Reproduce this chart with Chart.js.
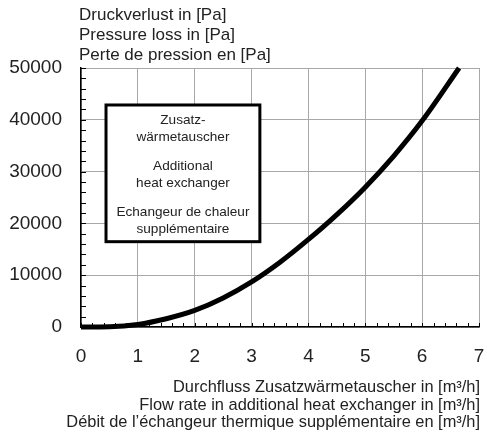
<!DOCTYPE html>
<html>
<head>
<meta charset="utf-8">
<script src="https://cdn.jsdelivr.net/npm/chart.js@4.4.0/dist/chart.umd.min.js"></script>
<style>
  html, body { margin: 0; padding: 0; background: #fff; }
  #wrap { width: 487px; height: 434px; }
</style>
</head>
<body>
<div id="wrap"><canvas id="druckChart" width="487" height="434"></canvas></div>
<script>
// Werte
const flowRate = [0, 0.5, 1, 1.5, 2, 2.5, 3, 3.5, 4, 4.5, 5, 5.5, 6, 6.65];
const pressureLoss = [0, 50, 500, 1600, 3200, 5600, 8700, 12500, 16900, 21700, 27000, 33000, 39800, 50000];
const xTicks = [0, 1, 2, 3, 4, 5, 6, 7];
const yTicks = [0, 10000, 20000, 30000, 40000, 50000];

const yTitle = ["Druckverlust in [Pa]", "Pressure loss in [Pa]", "Perte de pression en [Pa]"];
const xTitle = ["Durchfluss Zusatzwärmetauscher in [m³/h]", "Flow rate in additional heat exchanger in [m³/h]", "Débit de l’échangeur thermique supplémentaire en [m³/h]"];
const boxText = [["Zusatz-", "wärmetauscher"], ["Additional", "heat exchanger"], ["Echangeur de chaleur", "supplémentaire"]];

const fontName = "'Liberation Sans', Arial, sans-serif";

// Titel, Beschriftungsbox und innere Teilstriche
const extrasPlugin = {
    id: "extras",
    afterDatasetsDraw(chart) {
        const ctx = chart.ctx;
        const area = chart.chartArea;
        const xs = chart.scales.x;
        const ys = chart.scales.y;
        ctx.save();

        // kleine Teilstriche nach innen
        ctx.strokeStyle = "#000";
        ctx.lineWidth = 1;
        ctx.beginPath();
        for (let i = 0; i <= 35; i++) {
            const px = Math.round(xs.getPixelForValue(i * 0.2)) + 0.5;
            ctx.moveTo(px, area.bottom);
            ctx.lineTo(px, area.bottom - 4);
        }
        for (let i = 0; i <= 25; i++) {
            const py = Math.round(ys.getPixelForValue(i * 2000)) + 0.5;
            ctx.moveTo(area.left, py);
            ctx.lineTo(area.left + 5, py);
        }
        ctx.stroke();

        // Achsentitel
        ctx.fillStyle = "#222";
        ctx.font = "17px " + fontName;
        ctx.textAlign = "left";
        ctx.textBaseline = "alphabetic";
        yTitle.forEach((t, i) => ctx.fillText(t, area.left - 2, 20 + i * 20));

        ctx.font = "16.4px " + fontName;
        ctx.textAlign = "right";
        xTitle.forEach((t, i) => ctx.fillText(t, area.right + 1, 392 + i * 17.7));

        // Legendenbox
        const bx1 = xs.getPixelForValue(0.44);
        const bx2 = xs.getPixelForValue(3.146);
        const by1 = ys.getPixelForValue(42860);
        const by2 = ys.getPixelForValue(16470);
        ctx.fillStyle = "#fff";
        ctx.fillRect(bx1, by1, bx2 - bx1, by2 - by1);
        ctx.strokeStyle = "#000";
        ctx.lineWidth = 3;
        ctx.strokeRect(bx1, by1, bx2 - bx1, by2 - by1);

        ctx.fillStyle = "#222";
        ctx.font = "13.6px " + fontName;
        ctx.textAlign = "center";
        ctx.textBaseline = "middle";
        const cx = (bx1 + bx2) / 2;
        const starts = [by1 + 15, by1 + 61, by1 + 107];
        boxText.forEach((pair, g) => {
            pair.forEach((t, j) => ctx.fillText(t, cx, starts[g] + j * 17));
        });
        ctx.restore();
    }
};

const points = flowRate.map((v, i) => ({ x: v, y: pressureLoss[i] }));

const ctx = document.getElementById("druckChart").getContext("2d");
const druckChart = new Chart(ctx, {
    type: "line",
    data: {
        datasets: [{
            data: points,
            borderColor: "#000",
            borderWidth: 5,
            pointRadius: 0,
            fill: false,
            cubicInterpolationMode: "monotone",
            clip: false
        }]
    },
    options: {
        responsive: false,
        animation: false,
        layout: { padding: { left: 0, right: 8, top: 68, bottom: 0 } },
        plugins: {
            legend: { display: false },
            tooltip: { enabled: false },
            title: { display: false }
        },
        scales: {
            x: {
                type: "linear",
                min: 0,
                max: 7,
                afterFit: scale => {
                    scale.height = 107;
                    scale.paddingLeft = 0;
                    scale.paddingRight = 0;
                },
                afterBuildTicks: scale => { scale.ticks = xTicks.map(v => ({ value: v })); },
                ticks: {
                    color: "#222",
                    font: { size: 19, family: fontName },
                    padding: 18,
                    maxRotation: 0
                },
                grid: { color: "#a8a8a8", lineWidth: 1, drawTicks: false },
                border: { color: "#000", width: 1.5 }
            },
            y: {
                type: "linear",
                min: 0,
                max: 50000,
                afterFit: scale => {
                    scale.width = 81;
                    scale.paddingTop = 0;
                    scale.paddingBottom = 0;
                },
                afterBuildTicks: scale => { scale.ticks = yTicks.map(v => ({ value: v })); },
                ticks: {
                    color: "#222",
                    font: { size: 19, family: fontName },
                    padding: 19,
                    callback: v => String(v)
                },
                grid: { color: "#a8a8a8", lineWidth: 1, drawTicks: false },
                border: { color: "#000", width: 1.5 }
            }
        }
    },
    plugins: [extrasPlugin]
});
</script>
</body>
</html>
